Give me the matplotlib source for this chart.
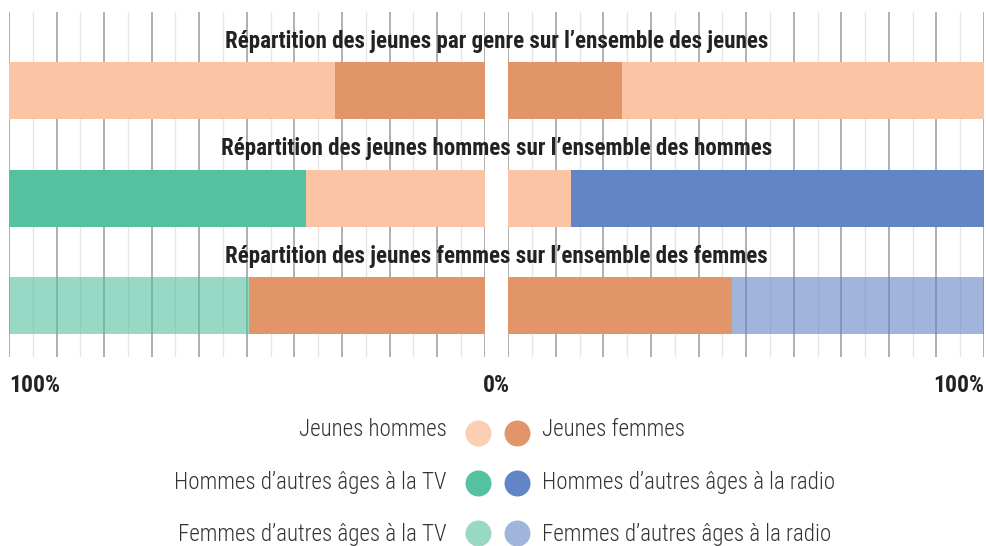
import matplotlib
matplotlib.use("Agg")
import matplotlib.pyplot as plt
import numpy as np

# ---- data ----
row_titles = [
    "Répartition des jeunes par genre sur l\u2019ensemble des jeunes",
    "Répartition des jeunes hommes sur l\u2019ensemble des hommes",
    "Répartition des jeunes femmes sur l\u2019ensemble des femmes",
]
tv_inner = [31.5, 37.6, 49.5]      # segment starting at 0% (TV, left)
tv_outer = [68.5, 62.4, 50.5]
radio_inner = [23.9, 13.2, 47.0]   # segment starting at 0% (radio, right)
radio_outer = [76.1, 86.8, 53.0]
axis_labels = ["100%", "0%", "100%"]
legend_left = ["Jeunes hommes", "Hommes d\u2019autres âges à la TV", "Femmes d\u2019autres âges à la TV"]
legend_right = ["Jeunes femmes", "Hommes d\u2019autres âges à la radio", "Femmes d\u2019autres âges à la radio"]

PEACH = "#FBC4A4"
ORANGE = "#E3956A"
GREEN = "#54C1A1"
BLUE = "#6285C5"
tv_inner_colors = [ORANGE, PEACH, ORANGE]
tv_outer_colors = [PEACH, GREEN, GREEN]
tv_outer_alpha = [1, 1, 0.6]
radio_inner_colors = [ORANGE, PEACH, ORANGE]
radio_outer_colors = [PEACH, BLUE, BLUE]
radio_outer_alpha = [1, 1, 0.6]
legend_left_colors = [("#FBCFB3", 1), (GREEN, 1), (GREEN, 0.6)]
legend_right_colors = [(ORANGE, 1), (BLUE, 1), (BLUE, 0.6)]

W, H = 986, 546
fig = plt.figure(figsize=(W / 100, H / 100), dpi=100)

TITLE_FONT = ["Roboto Condensed", "Roboto", "DejaVu Sans"]
TEXT_FONT = ["Roboto Condensed", "Roboto", "DejaVu Sans"]


def px_axes(x0, x1, ytop, ybot):
    return fig.add_axes([x0 / W, 1 - ybot / H, (x1 - x0) / W, (ybot - ytop) / H])


ytop, ybot = 12, 357
axL = px_axes(9, 484.7, ytop, ybot)
axR = px_axes(508.3, 984, ytop, ybot)

rows = np.arange(len(row_titles))
bar_h = 0.53
for ax, inner, outer, ic, oc, oa in [
    (axL, tv_inner, tv_outer, tv_inner_colors, tv_outer_colors, tv_outer_alpha),
    (axR, radio_inner, radio_outer, radio_inner_colors, radio_outer_colors, radio_outer_alpha),
]:
    for i in rows:
        ax.barh(i, inner[i], left=0, height=bar_h, color=ic[i], zorder=3, linewidth=0)
        ax.barh(i, outer[i], left=inner[i], height=bar_h, color=oc[i], alpha=oa[i],
                zorder=3, linewidth=0)
    ax.set_ylim(2.476, -0.733)
    for v in range(0, 101, 5):
        major = v % 10 == 0
        ax.axvline(v, color="#9a9a9a" if major else "#e6e6e6", lw=1.1 if major else 1.0,
                   zorder=1 if not major else 2)
    for s in ax.spines.values():
        s.set_visible(False)
    ax.set_xticks([])
    ax.set_yticks([])
    ax.patch.set_alpha(0)

axL.set_xlim(100, 0)
axR.set_xlim(0, 100)

# overlay axes in pixel coordinates for text and legend
ov = fig.add_axes([0, 0, 1, 1], zorder=10)
ov.set_xlim(0, W)
ov.set_ylim(H, 0)
ov.axis("off")
ov.patch.set_alpha(0)

title_y = [41.5, 149, 257]
for t, y in zip(row_titles, title_y):
    ov.text(496.5, y, t, ha="center", va="center", fontsize=16.6, fontweight="bold",
            color="#222222", family=TITLE_FONT)

lab_fs = 17
ov.text(9, 385, axis_labels[0], ha="left", va="center", fontsize=lab_fs, fontweight="bold",
        color="#222222", family=TITLE_FONT)
ov.text(496.7, 385, axis_labels[1], ha="center", va="center", fontsize=lab_fs, fontweight="bold",
        color="#222222", family=TITLE_FONT)
ov.text(984, 385, axis_labels[2], ha="right", va="center", fontsize=lab_fs, fontweight="bold",
        color="#222222", family=TITLE_FONT)

text_y = [429, 482, 535]
circ_y = [432.5, 483, 533]
for i in range(3):
    ov.text(447, text_y[i], legend_left[i], ha="right", va="center", fontsize=16.6,
            fontweight="light", color="#333333", family=TEXT_FONT)
    ov.text(542, text_y[i], legend_right[i], ha="left", va="center", fontsize=16.6,
            fontweight="light", color="#333333", family=TEXT_FONT)
    c, a = legend_left_colors[i]
    ov.scatter([478.2], [circ_y[i]], s=350, color=c, alpha=a, linewidths=0)
    c, a = legend_right_colors[i]
    ov.scatter([517.2], [circ_y[i]], s=350, color=c, alpha=a, linewidths=0)

fig.savefig("out.png", dpi=100)
